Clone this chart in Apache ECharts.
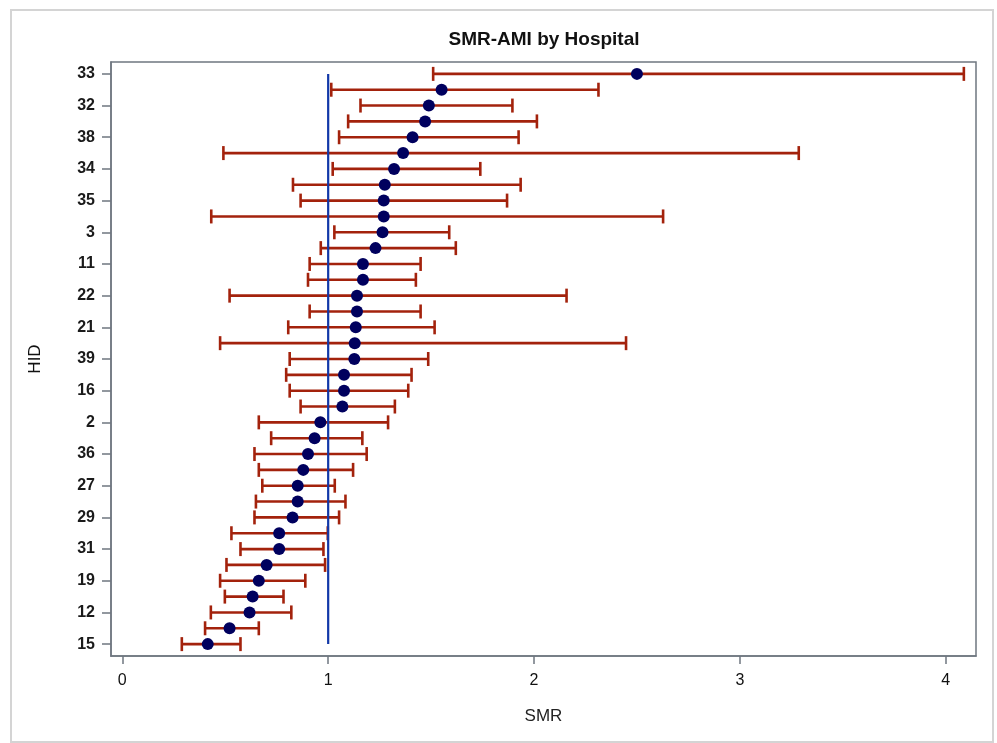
<!DOCTYPE html>
<html>
<head>
<meta charset="utf-8">
<script src="https://cdn.jsdelivr.net/npm/echarts@6/dist/echarts.min.js"></script>
<style>
html,body{margin:0;padding:0;background:#fff;}
#chart{width:997px;height:743px;}
</style>
</head>
<body>
<div id="chart"></div>
<script>
// Hospital IDs, top to bottom (odd rows are not labelled in the reference)
const hospitals = ['33','37','32','30','38','28','34','26','35','25','3','24','11','23','22','20','21','18','39','17','16','14','2','13','36','10','27','9','29','8','31','7','19','6','12','5','15'];
const smr   = [2.50,1.551,1.489,1.471,1.41,1.364,1.32,1.275,1.27,1.27,1.264,1.23,1.169,1.169,1.14,1.14,1.134,1.129,1.127,1.077,1.077,1.069,0.962,0.934,0.902,0.879,0.852,0.852,0.827,0.762,0.762,0.701,0.663,0.633,0.618,0.521,0.415];
const lower = [1.51,1.015,1.157,1.097,1.053,0.491,1.022,0.829,0.866,0.432,1.030,0.964,0.910,0.902,0.521,0.910,0.806,0.475,0.813,0.796,0.813,0.866,0.663,0.723,0.642,0.663,0.680,0.649,0.642,0.530,0.574,0.506,0.475,0.498,0.430,0.402,0.289];
const upper = [4.088,2.313,1.895,2.014,1.925,3.286,1.739,1.935,1.869,2.627,1.588,1.620,1.449,1.426,2.158,1.449,1.517,2.447,1.486,1.405,1.389,1.324,1.291,1.166,1.187,1.121,1.032,1.084,1.053,0.998,0.977,0.985,0.889,0.783,0.821,0.663,0.574];
const xTicks = [0,1,2,3,4];
const yLabelRows = hospitals.map((h,i)=>i).filter(i=>i%2===0);
const refValue = 1;

const chart = echarts.init(document.getElementById('chart'));
const font = '"Liberation Sans", Arial, sans-serif';

const barData = hospitals.map((h,i)=>[lower[i], upper[i], i]);
const pointData = hospitals.map((h,i)=>[smr[i], i]);

chart.setOption({
  animation:false,
  backgroundColor:'#ffffff',
  title:{
    text:'SMR-AMI by Hospital',
    left:544, textAlign:'center', top:30, padding:0,
    textStyle:{fontFamily:font,fontWeight:'bold',fontSize:19,color:'#111'}
  },
  graphic:[{
    type:'rect', silent:true, z:-10,
    shape:{x:11,y:10,width:982,height:732},
    style:{fill:'none',stroke:'#d4d4d4',lineWidth:2}
  }],
  grid:{
    left:111, top:62, right:21, bottom:87,
    show:true, borderColor:'#6f7780', borderWidth:1.5, backgroundColor:'#fff'
  },
  xAxis:{
    type:'value', min:-0.055, max:4.147,
    name:'SMR', nameLocation:'middle', nameGap:52,
    nameTextStyle:{fontFamily:font,fontSize:17,color:'#222'},
    axisLine:{show:true,onZero:false,lineStyle:{color:'#6f7780',width:1.5}},
    axisTick:{show:true,length:8,customValues:xTicks,lineStyle:{color:'#6f7780',width:1.5}},
    axisLabel:{customValues:xTicks,margin:17,fontFamily:font,fontSize:16,color:'#111'},
    splitLine:{show:false}
  },
  yAxis:{
    type:'value', inverse:true, min:-0.75, max:36.75,
    name:'HID', nameLocation:'middle', nameGap:67, nameRotate:90,
    nameTextStyle:{fontFamily:font,fontSize:17,color:'#111'},
    axisLine:{show:true,onZero:false,lineStyle:{color:'#6f7780',width:1.5}},
    axisTick:{show:true,length:9,customValues:yLabelRows,lineStyle:{color:'#6f7780',width:1.5}},
    axisLabel:{customValues:yLabelRows,margin:16,fontFamily:font,fontSize:16,fontWeight:'bold',color:'#1a1a1a',
      formatter:v=>hospitals[Math.round(v)]},
    splitLine:{show:false}
  },
  series:[
    {
      type:'custom', z:2,
      data:barData,
      renderItem:function(params, api){
        const y = api.value(2);
        const a = api.coord([api.value(0), y]);
        const b = api.coord([api.value(1), y]);
        const h = 7;
        const st = {stroke:'#a3220c', lineWidth:2.6};
        return {type:'group', children:[
          {type:'line', shape:{x1:a[0],y1:a[1],x2:b[0],y2:b[1]}, style:st},
          {type:'line', shape:{x1:a[0],y1:a[1]-h,x2:a[0],y2:a[1]+h}, style:st},
          {type:'line', shape:{x1:b[0],y1:b[1]-h,x2:b[0],y2:b[1]+h}, style:st}
        ]};
      }
    },
    {
      type:'line', z:3, symbol:'none',
      data:[[refValue,0],[refValue,hospitals.length-1]],
      lineStyle:{color:'#1238a8',width:2.2}
    },
    {
      type:'scatter', z:4,
      data:pointData, symbol:'circle', symbolSize:12,
      itemStyle:{color:'#00005e',opacity:1}
    }
  ]
});
</script>
</body>
</html>
